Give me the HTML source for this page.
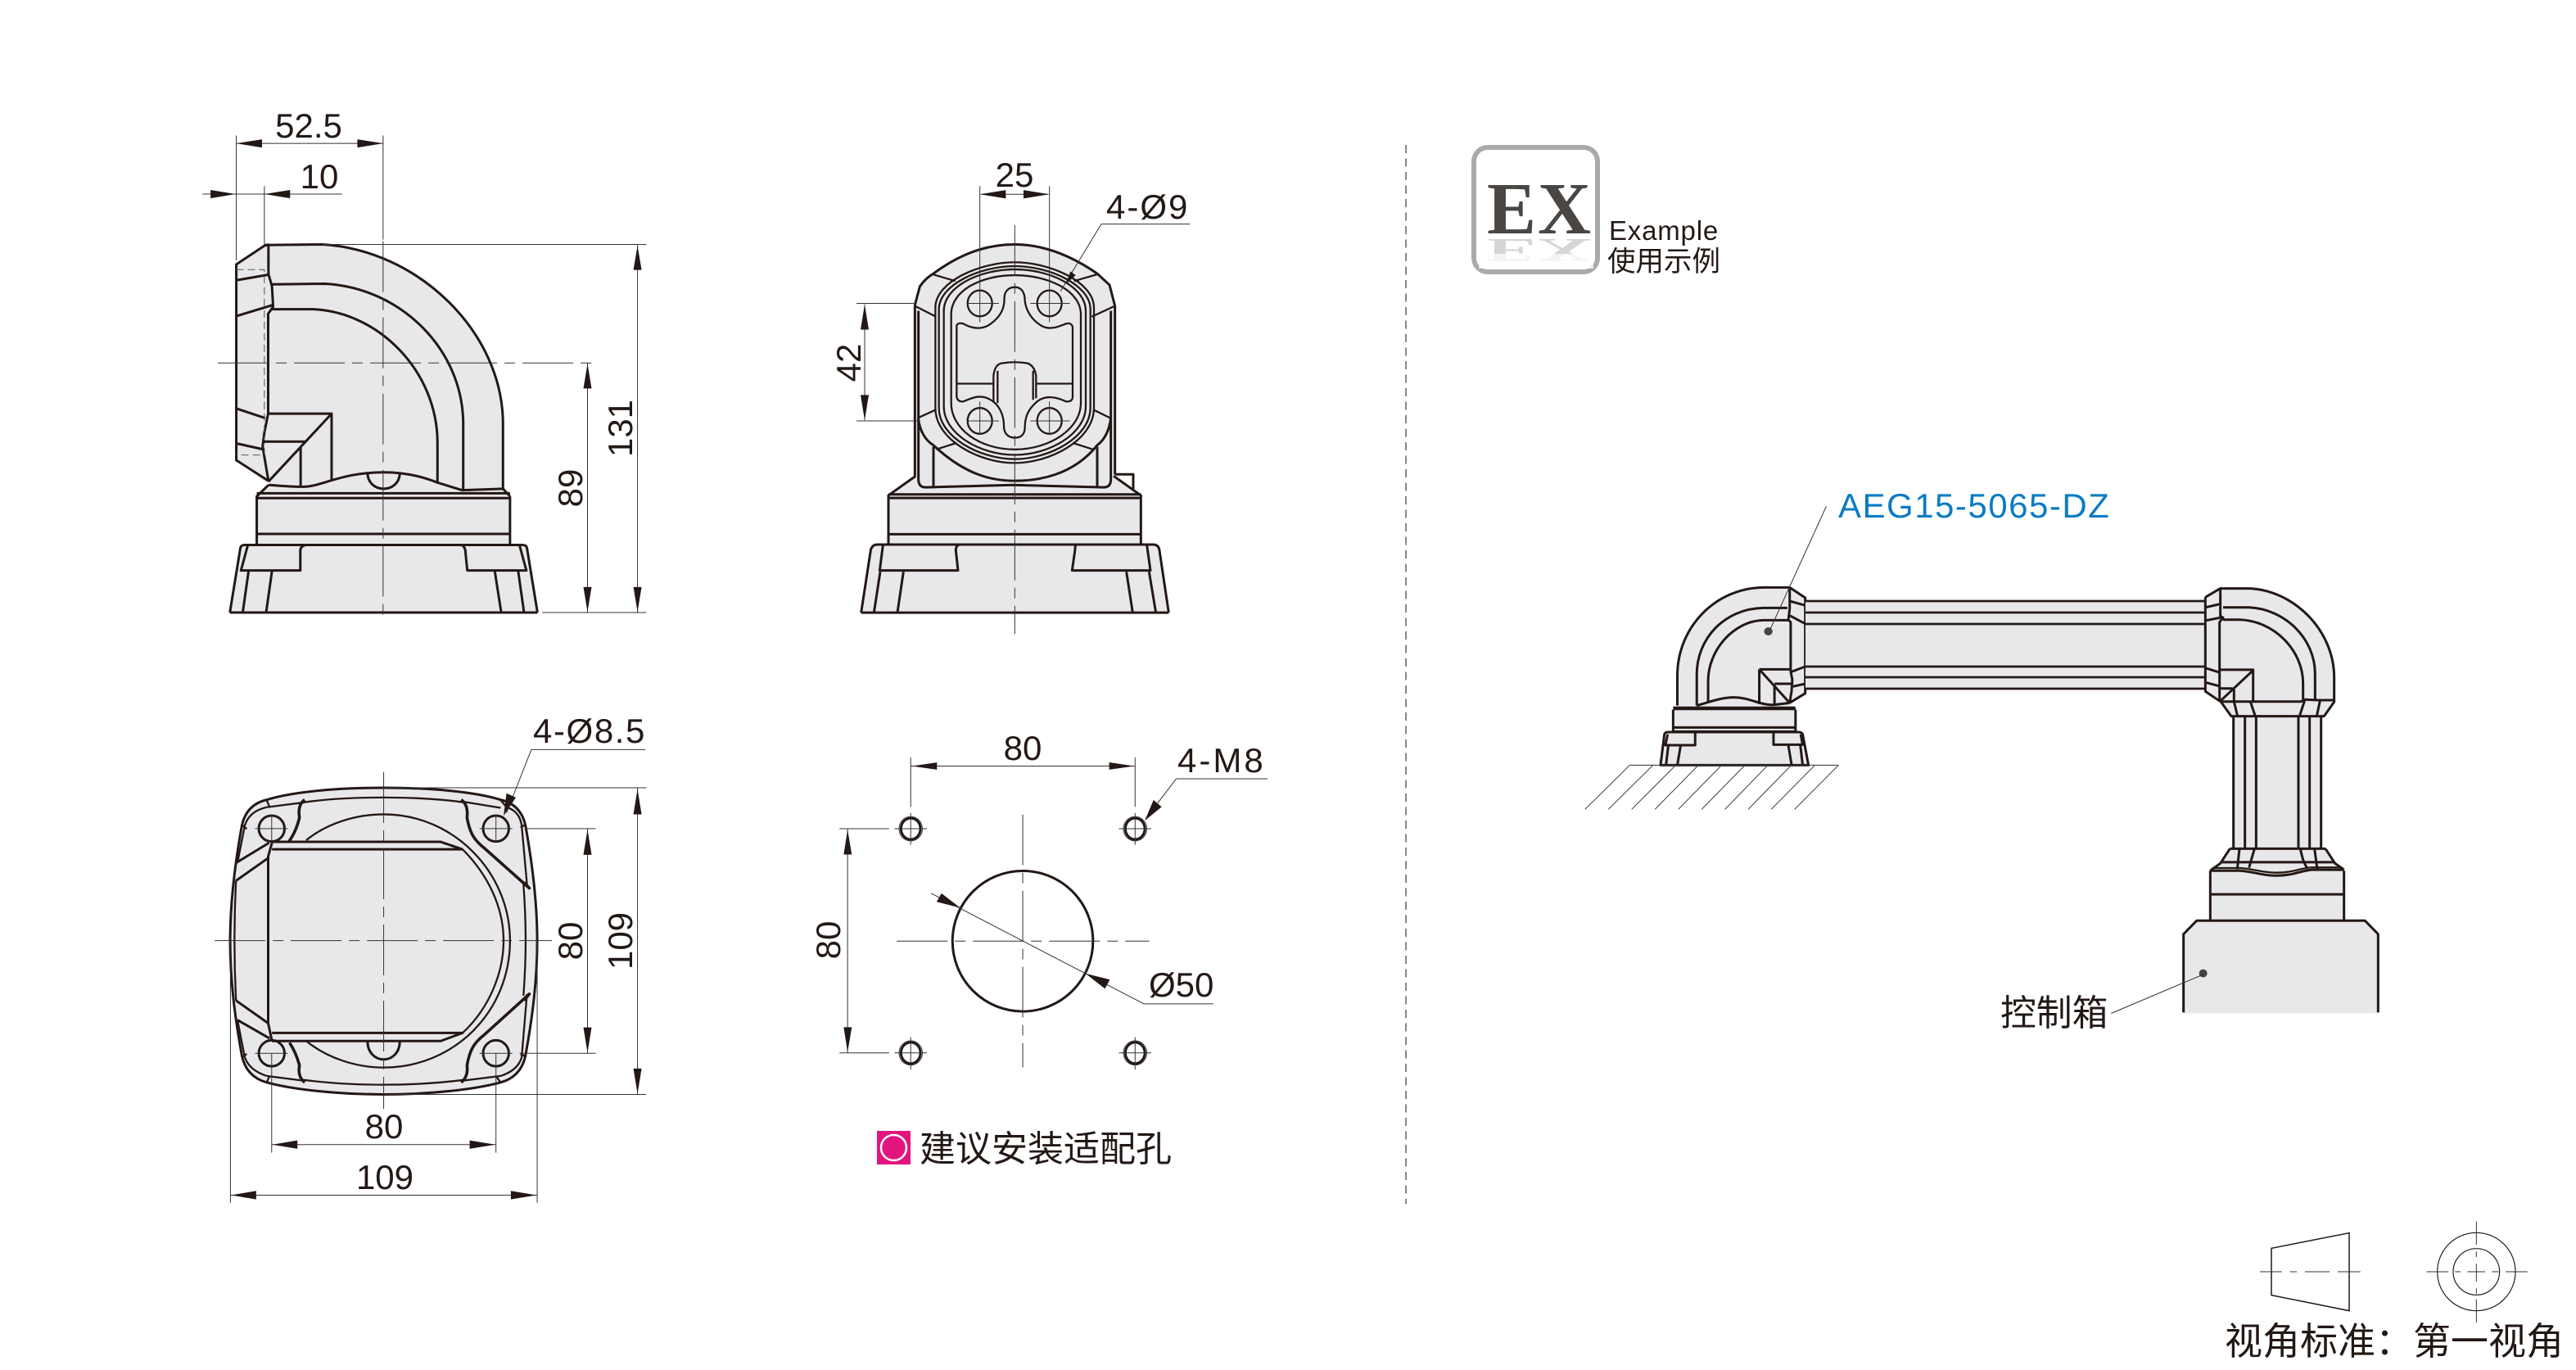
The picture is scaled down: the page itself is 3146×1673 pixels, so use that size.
<!DOCTYPE html>
<html><head><meta charset="utf-8"><style>
html,body{margin:0;padding:0;background:#fff}
svg{display:block}
.f{fill:#e8e8ea;stroke:none}
.h,.m,.t,.c,.d{fill:none;vector-effect:non-scaling-stroke;stroke-linejoin:round}
.h{stroke:#231815;stroke-width:3}
.m{stroke:#231815;stroke-width:2.3}
.t{stroke:#333;stroke-width:1}
.c{stroke:#333;stroke-width:1;stroke-dasharray:62 9 13 9}
.d{stroke:#555;stroke-width:1;stroke-dasharray:9 5}
.a{fill:#231815;stroke:none}
text{font-family:"Liberation Sans","Noto Sans CJK SC",sans-serif;fill:#231815}
.n{font-size:42px}
.cj{font-family:"Noto Sans CJK SC","WenQuanYi Zen Hei",sans-serif}
</style></head><body>
<svg xmlns="http://www.w3.org/2000/svg" width="3146" height="1673" viewBox="0 0 3146 1673">
<rect width="3146" height="1673" fill="#fff"/>

<!-- front view -->
<g transform="translate(240 120) scale(.35714 .42092)">
<path class="f" d="M136,482L232,428L245,424L430,424C760,440 1048,680 1048,945L1048,1135L1072,1155L1072,1296L1130,1300L1166,1492L114,1492L150,1300L206,1296L206,1155L246,1120L136,1050Z"/>
<path class="h" d="M232,426L430,424C760,440 1048,680 1048,945L1048,1135"/>
<path class="h" d="M258,540L440,538C700,550 912,730 912,945L912,1135"/>
<path class="h" d="M258,612L400,612C620,620 824,790 824,1000L824,1112"/>
<path class="h" d="M248,424L232,428L136,482L136,1050L246,1110"/>
<path class="h" d="M246,424L246,510L258,545L262,605L245,625L245,915L232,970L226,1010L246,1110"/>
<path class="h" d="M136,528L245,512M136,632L260,600M136,900L235,928M140,1002L225,1018"/>
<path class="d" d="M136,497H232V1035H136"/>
<path class="h" d="M245,915H462V1108M462,915L246,1112M230,996H372M356,1012V1125"/>
<path class="h" d="M246,1122C300,1125 340,1128 370,1127C430,1125 500,1085 640,1085C720,1085 780,1100 824,1115L908,1137L1048,1133L1072,1155"/>
<path class="h" d="M585,1087C585,1115 610,1133 640,1133C670,1133 695,1115 695,1087"/>
<path class="h" d="M246,1122L206,1155V1296M1072,1155V1296M206,1146H1072M206,1160H1072M206,1264H1072M206,1296H1072"/>
<path class="h" d="M114,1492H1166M114,1492L150,1305Q152,1296 165,1296H1115Q1128,1296 1130,1305L1166,1492"/>
<path class="h" d="M175,1298L152,1370H355V1310Q358,1298 375,1296M905,1296Q920,1300 920,1320L926,1370H1128L1105,1298"/>
<path class="h" d="M178,1372L158,1492M258,1372L238,1492M1020,1372L1042,1492M1100,1372L1120,1492"/>
<path class="c" d="M638,415V1520M73,768H1365"/>
<path class="t" d="M638,108V410M136,108V470M232,255V425M136,131H638M20,278H498M430,424H1538M1182,1492H1538M1508,424V1492M1337,768V1492"/>
<path class="a" d="M136,131L224,119V143ZM638,131L550,119V143ZM134,278L48,266V290ZM232,278L320,266V290ZM1508,428L1494,498H1522ZM1508,1490L1494,1418H1522ZM1337,770L1323,842H1351ZM1337,1490L1323,1418H1351Z"/>
</g>
<text class="n" x="377" y="168" text-anchor="middle">52.5</text>
<text class="n" x="390" y="230" text-anchor="middle">10</text>
<text class="n" transform="translate(772 523) rotate(-90)" text-anchor="middle">131</text>
<text class="n" transform="translate(711 596) rotate(-90)" text-anchor="middle">89</text>

<!-- side view -->
<g transform="translate(980 170) scale(.33333 .39541)">
<path class="f" d="M412,512L430,455Q450,430 480,415C600,340 700,325 778,325C860,325 960,345 1080,415L1125,450L1145,515V1040L1240,1100V1252H1285Q1305,1252 1308,1270L1342,1462H215L250,1270Q255,1252 275,1252H315V1100L412,1040Z"/>
<path class="h" d="M215,1462H1342M215,1462L250,1270Q255,1252 275,1252H1285Q1305,1252 1308,1270L1342,1462"/>
<path class="h" d="M295,1254L283,1332H570L562,1270Q562,1255 575,1252M1000,1252Q1000,1265 995,1290L988,1332H1275L1262,1254"/>
<path class="h" d="M285,1336L262,1462M370,1336L348,1462M1187,1336L1210,1462M1270,1336L1295,1462"/>
<path class="h" d="M315,1252V1100L415,1040M1140,1040L1240,1100V1252M315,1097H1240M315,1108H1240M315,1220H1240M1145,1035H1212V1080"/>
<path class="h" d="M412,512V1040M1145,515V1035M425,530V1050Q425,1075 450,1075L770,1068L1105,1075Q1130,1075 1130,1050V530M480,950V1075M1080,950V1072"/>
<path class="h" d="M412,512L430,455Q450,430 480,415C600,340 700,325 778,325C860,325 960,345 1080,415L1125,450L1145,515"/>
<path class="h" d="M425,865C430,900 450,930 480,945C600,1040 700,1055 778,1055C860,1055 990,1040 1080,945C1105,930 1125,900 1130,860"/>
<path class="m" d="M487,520C487,440 650,380 778,380C905,380 1068,440 1068,520V830C1068,930 905,1000 778,1000C650,1000 487,930 487,830Z"/>
<path class="m" d="M500,525C500,450 650,392 778,392C905,392 1055,450 1055,525V830C1055,920 905,988 778,988C650,988 500,920 500,830Z"/>
<path class="m" d="M518,530C518,455 650,402 778,402C905,402 1038,455 1038,530V825C1038,910 905,975 778,975C650,975 518,910 518,825Z"/>
<path class="m" d="M545,540C545,470 650,420 778,420C905,420 1020,470 1020,540V815C1020,895 905,958 778,958C650,958 545,895 545,815Z"/>
<path class="m" d="M412,515L487,547M480,418L560,438M1078,418L995,438M1145,515L1060,548M425,860L490,835M1130,862L1065,835M490,958L565,938M1065,958L990,938"/>
<path class="m" d="M565,575Q570,565 590,570C620,585 660,590 690,570C730,545 740,520 740,490C740,470 755,457 778,457C800,457 815,470 815,500C820,530 840,560 880,578C910,590 940,578 965,570Q985,565 990,580V795Q990,812 965,810C930,795 890,790 860,810C825,835 815,860 815,890C815,912 800,922 778,922C755,922 738,910 738,885C738,850 720,820 690,805C650,785 620,800 590,810Q568,812 565,795Z"/>
<path class="m" d="M568,755H700M858,755H988M700,812V730Q705,695 730,692Q778,685 825,692Q850,700 856,730V800M715,815V715M845,805V715"/>
<ellipse class="m" cx="650" cy="507" rx="45" ry="40"/><ellipse class="m" cx="905" cy="507" rx="45" ry="40"/>
<ellipse class="m" cx="650" cy="870" rx="45" ry="40"/><ellipse class="m" cx="905" cy="870" rx="45" ry="40"/>
<path class="t" d="M605,507H720M835,507H980M605,870H720M835,870H980M650,145V565M905,145V565M650,810V910M905,810V910M655,170H900M228,510V868M198,507H415M198,870H425M1420,262H1095L945,470"/>
<path class="c" d="M778,265V1528"/>
<path class="a" d="M650,170L745,157V183ZM905,170L810,157V183ZM228,510L213,588H243ZM228,868L213,790H243ZM965,448L982,408L1001,420Z"/>
</g>
<text class="n" x="1239" y="228" text-anchor="middle">25</text>
<text class="n" x="1351" y="267" letter-spacing="2">4-Ø9</text>
<text class="n" transform="translate(1051 443) rotate(-90)" text-anchor="middle">42</text>

<!-- top view -->
<g transform="translate(240 860) scale(.35714 .39541)">
<path class="f" d="M640,258C800,258 950,270 1040,295Q1110,310 1125,375C1150,500 1165,620 1165,730C1165,850 1150,960 1125,1085Q1110,1150 1040,1168C950,1190 800,1205 640,1205C480,1205 330,1190 240,1168Q170,1150 155,1085C130,960 115,850 115,730C115,620 130,500 155,375Q170,310 240,295C330,270 480,258 640,258Z"/>
<path class="h" d="M640,258C800,258 950,270 1040,295Q1110,310 1125,375C1150,500 1165,620 1165,730C1165,850 1150,960 1125,1085Q1110,1150 1040,1168C950,1190 800,1205 640,1205C480,1205 330,1190 240,1168Q170,1150 155,1085C130,960 115,850 115,730C115,620 130,500 155,375Q170,310 240,295C330,270 480,258 640,258Z"/>
<path class="m" d="M365,303C450,292 550,288 640,288C730,288 830,292 915,303M1060,318Q1105,330 1112,375M1118,555C1128,680 1128,780 1118,900M1112,1090Q1100,1130 1040,1148M915,1160C830,1170 730,1175 640,1175C550,1175 450,1170 365,1160M240,1148Q180,1130 165,1090M135,915C128,790 128,670 135,545M165,375Q180,330 240,318"/>
<path class="m" d="M165,375L140,490M240,318L370,303M1040,320L905,300M1112,375L1130,555M1112,1090L1130,895M1040,1148L905,1163M240,1148L370,1163M165,1090L140,975"/>
<path class="m" d="M155,372L172,385M240,296L250,318M1040,296L1062,320M1108,380L1125,372M155,1090L172,1080M240,1168L250,1148M1040,1168L1025,1150M1108,1080L1125,1088"/>
<path class="m" d="M375,420C450,365 550,340 640,340C880,340 1072,520 1072,730C1072,950 880,1122 640,1122C550,1122 450,1095 375,1040"/>
<path class="m" d="M910,448C1000,530 1050,630 1050,730C1050,830 1000,940 910,1015"/>
<path class="h" d="M258,425H835L910,448M258,448H910M258,1015H910L835,1040H258M258,428L245,470V985L258,1040"/>
<path class="h" d="M135,490L248,428M135,545L245,475M135,915L245,985M140,975L250,1032"/>
<ellipse class="h" cx="257" cy="384" rx="44" ry="40"/><ellipse class="h" cx="1024" cy="384" rx="44" ry="40"/>
<ellipse class="h" cx="257" cy="1078" rx="44" ry="40"/><ellipse class="h" cx="1024" cy="1078" rx="44" ry="40"/>
<path class="h" style="stroke-width:3.6" d="M370,295Q345,310 352,350Q340,395 315,425M905,295Q930,310 925,350C935,400 950,420 985,445L1138,568L1120,550"/>
<path class="h" style="stroke-width:3.6" d="M370,1168Q345,1150 352,1115Q340,1075 318,1045M905,1168Q930,1150 925,1115C935,1065 950,1045 985,1020L1138,895L1120,915"/>
<path class="h" d="M585,1042C585,1075 610,1097 640,1097C670,1097 695,1075 695,1042"/>
<path class="c" d="M640,210V1250M62,730H1215"/>
<path class="t" d="M200,384H312M968,384H1080M200,1078H312M968,1078H1080M257,340V428M1024,340V428M1535,140H1145L1060,335M640,258H1538M640,1205H1538M1130,384H1365M1105,1078H1365M1508,258V1205M1337,384V1078M257,1078V1385M1024,1078V1385M116,730V1540M1165,730V1540M257,1360H1024M116,1516H1165"/>
<path class="a" d="M1050,345L1060,275L1092,288ZM1508,262L1494,340H1522ZM1508,1203L1494,1125H1522ZM1337,387L1323,465H1351ZM1337,1076L1323,998H1351ZM259,1360L345,1347V1373ZM1022,1360L934,1347V1373ZM118,1516L204,1503V1529ZM1163,1516L1075,1503V1529Z"/>
</g>
<text class="n" x="651" y="907" letter-spacing="1.6">4-Ø8.5</text>
<text class="n" transform="translate(772 1149) rotate(-90)" text-anchor="middle">109</text>
<text class="n" transform="translate(711 1149) rotate(-90)" text-anchor="middle">80</text>
<text class="n" x="469" y="1390" text-anchor="middle">80</text>
<text class="n" x="470" y="1452" text-anchor="middle">109</text>

<!-- hole pattern -->
<g transform="translate(960 880) scale(.39541 .3699)">
<ellipse class="h" cx="731" cy="728" rx="217" ry="232"/>
<ellipse class="h" cx="385" cy="357" rx="30" ry="35"/><ellipse class="h" cx="1078" cy="357" rx="30" ry="35"/>
<ellipse class="h" cx="385" cy="1097" rx="30" ry="35"/><ellipse class="h" cx="1078" cy="1097" rx="30" ry="35"/>
<ellipse class="t" cx="385" cy="357" rx="36" ry="40"/><ellipse class="t" cx="1078" cy="357" rx="36" ry="40"/>
<ellipse class="t" cx="385" cy="1097" rx="36" ry="40"/><ellipse class="t" cx="1078" cy="1097" rx="36" ry="40"/>
<path class="t" d="M335,357H435M1028,357H1128M335,1097H435M1028,1097H1128M385,305V410M1078,305V410M385,1045V1152M1078,1045V1152M385,122V285M1078,122V285M385,150H1078M165,357H318M165,1097H318M190,357V1097M1487,192H1205L1110,325M448,570L1105,935H1320"/>
<path class="c" d="M731,310V1145M342,728H1122"/>
<path class="a" d="M388,150L466,138V162ZM1076,150L998,138V162ZM190,360L178,442H203ZM190,1095L178,1012H203ZM1108,330L1135,262L1160,285ZM538,618L465,598L480,570ZM925,835L985,885L1000,855Z"/>
</g>
<text class="n" x="1249" y="928" text-anchor="middle">80</text>
<text class="n" transform="translate(1026 1148) rotate(-90)" text-anchor="middle">80</text>
<text class="n" x="1438" y="943" letter-spacing="3">4-M8</text>
<text class="n" x="1403" y="1217">Ø50</text>
<rect x="1071" y="1381" width="41" height="41" fill="#e2157e"/>
<circle cx="1091.5" cy="1401.5" r="15.5" fill="none" stroke="#fff" stroke-width="2.5"/>
<text class="cj" x="1123" y="1418" font-size="44">建议安装适配孔</text>

<!-- divider -->
<path d="M1717,177V1470" stroke="#888" stroke-width="2" stroke-dasharray="10 6.5" fill="none"/>

<!-- EX -->
<rect x="1800" y="180" width="151" height="152" rx="17" fill="#fff" stroke="#aaa" stroke-width="6"/>
<text x="1816" y="285" font-size="90" font-weight="bold" style="font-family:'Liberation Serif',serif;fill:#4a4643">E</text>
<text x="1878" y="285" font-size="90" font-weight="bold" style="font-family:'Liberation Serif',serif;fill:#4a4643">X</text>
<g transform="translate(0 292) scale(1 -.45)" opacity=".22">
<text x="1816" y="0" font-size="90" font-weight="bold" style="font-family:'Liberation Serif',serif;fill:#4a4643">E</text>
<text x="1878" y="0" font-size="90" font-weight="bold" style="font-family:'Liberation Serif',serif;fill:#4a4643">X</text>
</g>
<rect x="1806" y="310" width="140" height="18" fill="#fff" opacity=".7"/>
<text x="1965" y="293" font-size="33" letter-spacing=".8">Example</text>
<text class="cj" x="1963" y="331" font-size="34.5">使用示例</text>

<!-- left elbow assembly -->
<g transform="translate(1920 580) scale(.39541 .33333)">
<path class="f" d="M672,412H590C440,415 325,560 325,735V850H312V940L295,942L273,1063H730L712,942H690V860L672,835L720,800V450Z"/>
<path class="h" d="M672,412H590C440,415 325,560 325,735V845"/>
<path class="h" d="M665,487H590C470,490 385,600 385,730V845"/>
<path class="h" d="M668,532H590C500,535 420,640 420,755V835"/>
<path class="h" d="M672,412L720,450V800L672,835M672,412V490L668,530L675,540V720L680,750L678,790L672,835"/>
<path class="h" d="M672,462L720,478M672,515L720,545M675,722L720,702M682,775L720,765"/>
<path class="h" d="M578,712H675M578,712V840M578,712L672,835M625,765H680M625,770V840"/>
<path class="h" d="M385,845C430,830 460,815 500,815C550,815 580,845 625,842L672,835"/>
<path class="h" d="M312,860V940H690V860M312,925H690"/>
<path d="M312,855H690" class="h" style="stroke-width:4.5"/>
<path class="h" d="M273,1063H730L712,950Q708,942 700,942H295Q288,942 285,950ZM295,950L288,990H380V945M622,945V988H712L706,950"/>
<path class="h" d="M297,992L290,1063M335,992L325,1063M668,992L678,1063M705,992L712,1063"/>
<path class="t" d="M785,115L610,570M178,1063H823M178,1063L40,1225M250,1063L112,1225M320,1063L184,1225M390,1063L256,1225M462,1063L328,1225M534,1063L400,1225M605,1063L472,1225M677,1063L544,1225M750,1063L615,1225M823,1063L687,1225"/>
<ellipse cx="606" cy="573" rx="13" ry="15" fill="#444"/>
</g>
<text x="2245" y="632" font-size="42" letter-spacing="1.5" style="fill:#0b7bc4">AEG15-5065-DZ</text>

<!-- bar -->
<rect x="2205" y="734" width="488" height="107" fill="#e8e8ea"/>
<path d="M2205,734H2693M2205,748H2693M2205,762H2693M2205,814H2693M2205,827H2693M2205,841H2693" stroke="#231815" stroke-width="2.8" fill="none"/>

<!-- right elbow assembly -->
<g transform="translate(2560 690) scale(.33333 .35714)">
<path class="f" d="M400,110L455,80H560C720,85 872,220 872,385V468L835,517H824V970H840L875,1020L908,1042V1215H985L1033,1262V1533H320V1262L368,1216H418V1045L455,1020L490,970H503V517H495L455,465L400,432Z"/>
<path class="h" d="M455,80H560C720,85 872,220 872,385V468L835,517H495L455,465"/>
<path class="h" d="M465,145H560C690,150 802,250 802,372V458"/>
<path class="h" d="M465,187H525C650,190 758,290 758,405V460"/>
<path class="h" d="M400,110L455,80V175L465,180L452,195V465L400,432V110"/>
<path class="h" d="M400,145L455,133M400,190L465,178M400,352L455,368M403,402L455,415"/>
<path class="h" d="M455,358H575V465M575,360L455,465M455,422H500M505,425V465"/>
<path class="h" d="M455,467H750L765,460L810,462H872M505,467L518,517M565,467L583,517M765,460L745,517M820,465L808,517"/>
<path class="h" d="M503,517V970M545,517V970M586,517V970M741,517V970M782,517V970M824,517V970"/>
<path class="h" d="M490,970H840M490,970L455,1020L418,1045M840,970L875,1020L908,1042M525,970L517,1040M580,970L560,1035M748,970C755,1000 760,1020 775,1038M800,970L810,1040M455,1016H875"/>
<path class="h" d="M418,1045H520C570,1045 600,1062 660,1062C720,1062 750,1045 790,1042H908"/>
<path class="m" d="M425,1036H520C570,1036 600,1052 660,1052C720,1052 750,1036 790,1034H900"/>
<path class="h" d="M418,1045V1215M908,1045V1215M415,1126H910M320,1530V1262L368,1216H985L1033,1262V1530"/>
<ellipse cx="392" cy="1396" rx="15" ry="14" fill="#444"/>
<path class="t" d="M392,1400L55,1533"/>
</g>
<text class="cj" x="2443" y="1252" font-size="43.8">控制箱</text>

<!-- projection symbol -->
<g transform="translate(2690 1470) scale(.33333)">
<path d="M252,163L537,107V392L252,335Z" fill="none" stroke="#231815" stroke-width="4.5"/>
<circle cx="1003" cy="249" r="143" fill="none" stroke="#231815" stroke-width="3.5"/>
<circle cx="1003" cy="249" r="85" fill="none" stroke="#231815" stroke-width="3.5"/>
<path d="M210,249H290M320,249H345M375,249H465M495,249H578M820,249H900M925,249H945M970,249H1035M1060,249H1085M1110,249H1190M1003,65V150M1003,175V195M1003,220V285M1003,310V330M1003,350V435" fill="none" stroke="#333" stroke-width="3"/>
</g>
<text class="cj" x="2717" y="1654" font-size="46">视角标准：第一视角</text>
</svg>
</body></html>
